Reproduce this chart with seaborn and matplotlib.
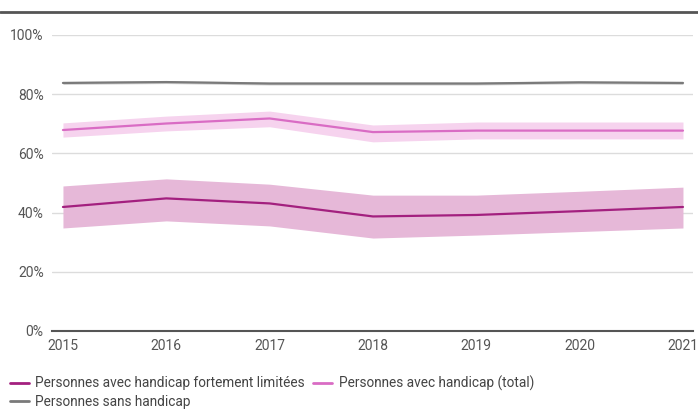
import pandas as pd
import seaborn as sns
import matplotlib.pyplot as plt
from matplotlib.lines import Line2D
from matplotlib.ticker import PercentFormatter

years = [2015, 2016, 2017, 2018, 2019, 2020, 2021]

# Personnes avec handicap fortement limitées
forte = [41.9, 44.8, 43.1, 38.7, 39.2, 40.5, 41.9]
forte_lo = [34.8, 37.2, 35.5, 31.4, 32.4, 33.6, 34.8]
forte_hi = [49.0, 51.4, 49.6, 45.9, 45.9, 47.2, 48.6]

# Personnes avec handicap (total)
total = [67.9, 70.1, 71.8, 67.2, 67.7, 67.7, 67.7]
total_lo = [65.5, 67.6, 69.0, 63.9, 64.9, 64.9, 64.9]
total_hi = [70.3, 72.6, 74.3, 69.6, 70.6, 70.6, 70.6]

# Personnes sans handicap
sans = [83.8, 84.1, 83.6, 83.6, 83.6, 84.0, 83.8]
sans_lo = [83.3, 83.6, 83.1, 83.1, 83.1, 83.5, 83.3]
sans_hi = [84.3, 84.6, 84.1, 84.1, 84.1, 84.5, 84.3]

labels = ['Personnes avec handicap fortement limitées',
          'Personnes avec handicap (total)',
          'Personnes sans handicap']
colors = ['#a3207f', '#d96cc4', '#7a7a7a']
band_colors = ['#e6b8d8', '#f6d3ee', '#d2d2d2']

df = pd.DataFrame({
    'year': years * 3,
    'value': forte + total + sans,
    'groupe': [labels[0]] * 7 + [labels[1]] * 7 + [labels[2]] * 7,
})

sns.set_style('white')
plt.rcParams['font.family'] = ['Roboto', 'DejaVu Sans']

fig = plt.figure(figsize=(6.98, 4.12), dpi=100)
ax = fig.add_axes([52 / 698, 1 - 331 / 412, 641 / 698, 296 / 412])

for lo, hi, c in zip([forte_lo, total_lo, sans_lo], [forte_hi, total_hi, sans_hi], band_colors):
    ax.fill_between(years, lo, hi, color=c, lw=0, zorder=1)

sns.lineplot(data=df, x='year', y='value', hue='groupe', hue_order=labels,
             palette=colors, linewidth=1.6, ax=ax, legend=False, zorder=3)

ax.set_xlim(2014.894, 2021.097)
ax.set_ylim(0, 100)
ax.set_yticks([0, 20, 40, 60, 80, 100])
ax.yaxis.set_major_formatter(PercentFormatter(decimals=0))
ax.set_xticks(years)
ax.grid(axis='y', color='#dcdcdc', linewidth=1, zorder=0)
ax.set_axisbelow(True)
for s in ['top', 'right', 'left']:
    ax.spines[s].set_visible(False)
ax.spines['bottom'].set_color('#555555')
ax.spines['bottom'].set_linewidth(1.5)
ax.tick_params(axis='both', length=0, labelsize=10, colors='#555555')
ax.tick_params(axis='x', pad=6)
ax.tick_params(axis='y', pad=6)
ax.set_xlabel('')
ax.set_ylabel('')

# dark separator line at the top
fig.add_artist(Line2D([0, 1], [1 - 12 / 412, 1 - 12 / 412], color='#555555', lw=2))

# legend filled column by column: row 1 = forte, total ; row 2 = sans
order = [0, 2, 1]
handles = [Line2D([0], [0], color=colors[i], lw=2) for i in order]
fig.legend(handles, [labels[i] for i in order], loc='upper left',
           bbox_to_anchor=(0.0, 1 - 366 / 412),
           ncol=2, frameon=False, fontsize=9.8, handlelength=1.4, handletextpad=0.5,
           columnspacing=0.6, labelspacing=0.3, borderaxespad=0.3,
           labelcolor='#444444')

fig.savefig('out.png', dpi=100)
